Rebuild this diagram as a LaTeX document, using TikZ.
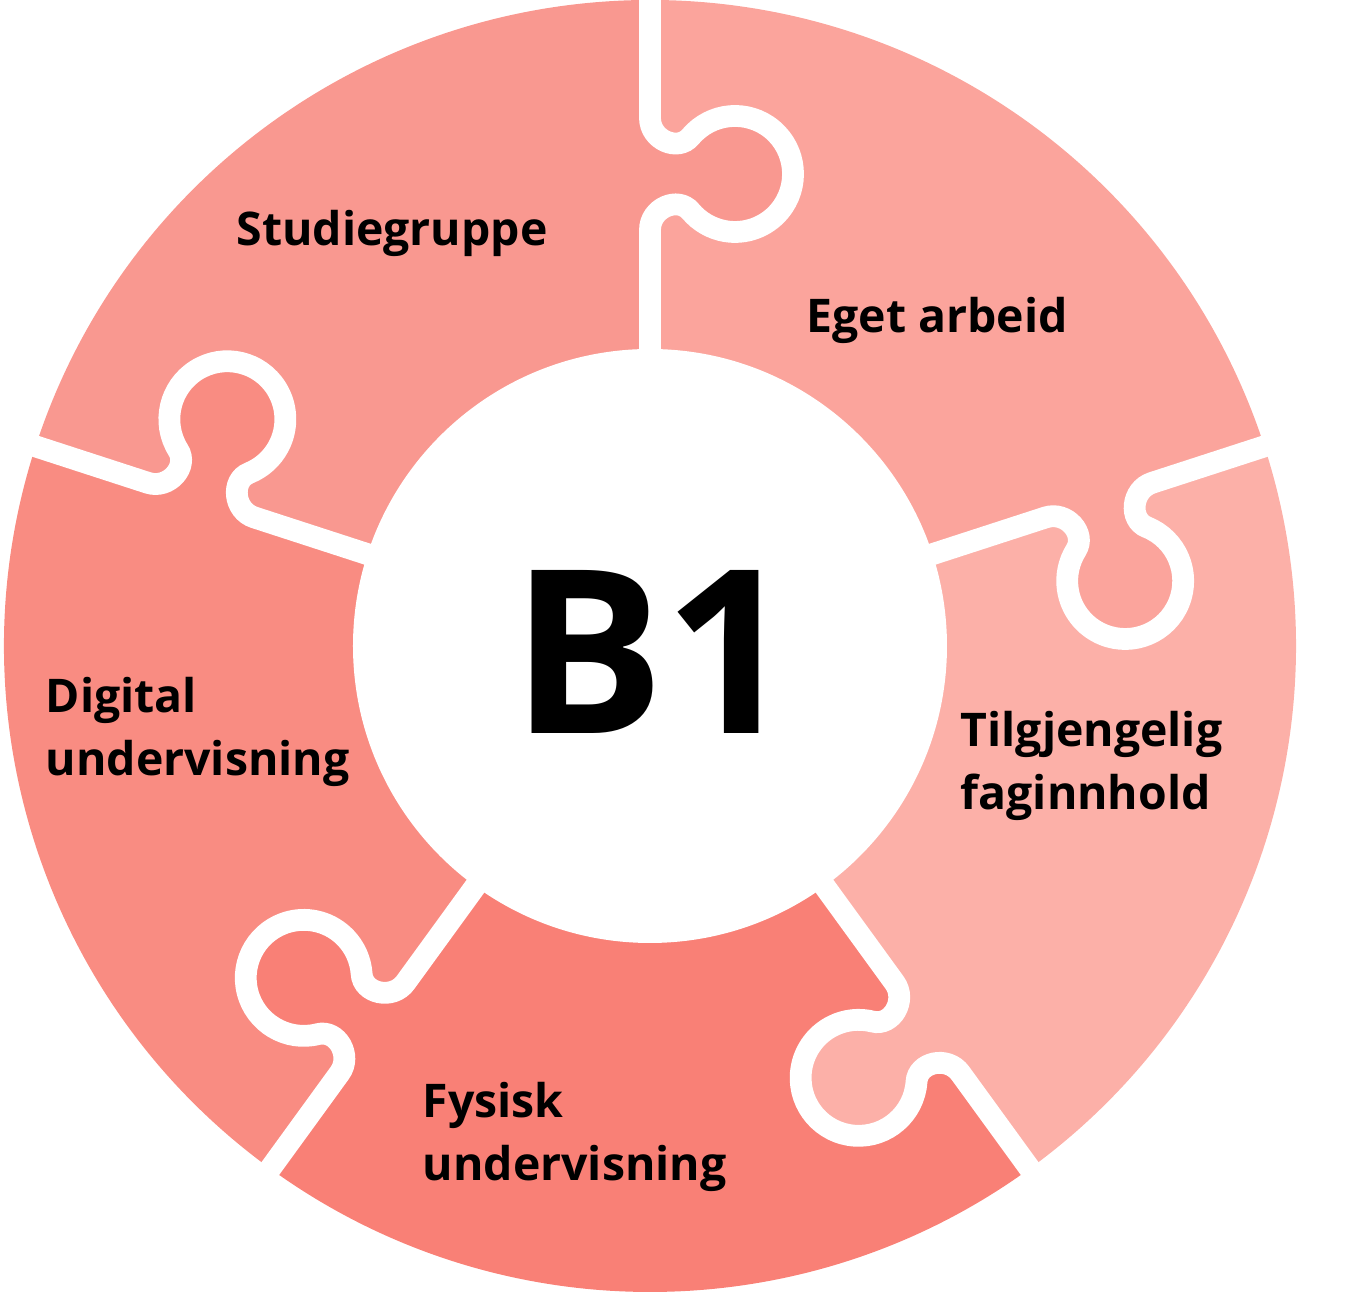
\documentclass[tikz,border=0pt]{standalone}
\usepackage{fontspec}
\setmainfont{Open Sans}
\usepackage{xcolor}
\definecolor{SalmonA}{HTML}{F99890}
\definecolor{SalmonB}{HTML}{FBA49C}
\definecolor{SalmonC}{HTML}{FCB0A8}
\definecolor{SalmonD}{HTML}{F98C82}
\definecolor{SalmonE}{HTML}{F98076}
\colorlet{study}{SalmonA}
\colorlet{own}{SalmonB}
\colorlet{avail}{SalmonC}
\colorlet{digi}{SalmonD}
\colorlet{phys}{SalmonE}
\usepackage{tikz}

\begin{document}
\begin{tikzpicture}[x=0.1mm,y=0.1mm,every node/.style={font=\bfseries\fontsize{13.2}{17.9}\selectfont,align=left,inner sep=0pt},
  gap/.style={white,line width=6.2pt}]
\useasboundingbox (-650,-650) rectangle (710,646);
% pieces
\foreach \s/\c in {18/own,90/study,162/digi,234/phys,306/avail}
  \fill[\c] (0,0) -- (\s:646) arc[start angle=\s,end angle=\s+72,radius=646] -- cycle;
% tabs and gaps
\foreach \a/\c in {90/study,18/own,-54/avail,-126/phys,162/digi}{
  \begin{scope}[rotate=\a]
  \fill[\c] (528,3) -- (528,0) .. controls (506,0) and (494,-28) .. (509.3,-40.6) arc[start angle=50,end angle=-230,radius=58] .. controls (450,-28) and (438,0) .. (416,0) -- (416,3) -- cycle;
  \draw[gap] (680,0) -- (528,0) .. controls (506,0) and (494,-28) .. (509.3,-40.6) arc[start angle=50,end angle=-230,radius=58] .. controls (450,-28) and (438,0) .. (416,0) -- (280,0);
  \end{scope}
}
\fill[white] (0,0) circle[radius=297];
\node[font=\bfseries\fontsize{65}{70}\selectfont] (b1) at (3,-6) {B1};
\node (studie) at (-258,413) {Studiegruppe};
\node (eget) at (287,326) {Eget arbeid};
\node[anchor=west] (tilg) at (310,-120) {Tilgjengelig\\faginnhold};
\node[anchor=west] (digital) at (-605,-86) {Digital\\undervisning};
\node[anchor=west] (fysisk) at (-228,-491) {Fysisk\\undervisning};
\end{tikzpicture}
\end{document}
